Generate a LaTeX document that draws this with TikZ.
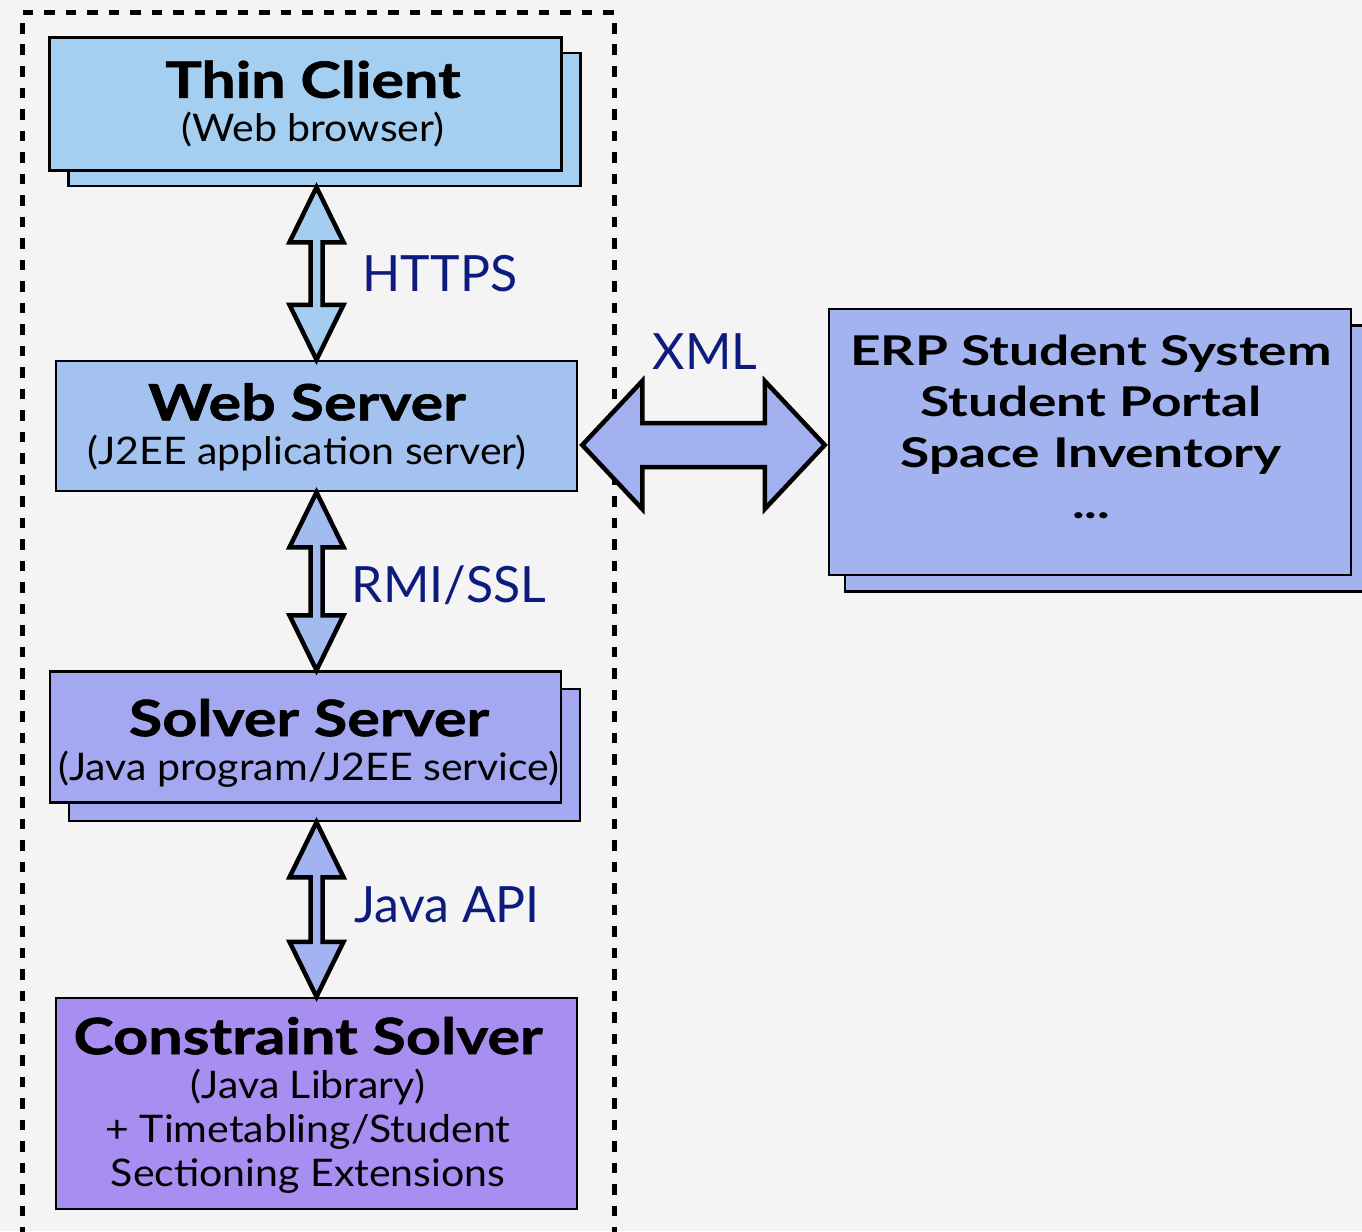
\documentclass[tikz,border=0pt]{standalone}
\usepackage{fontspec}
\setmainfont{Lato}[FakeStretch=1.08]
\newfontfamily\tierheavy{Lato}[FakeStretch=1.22, BoldFeatures={FakeBold=1.2}]
\newfontfamily\erpfont{Lato}[FakeStretch=1.3]
\newfontfamily\linkfont{Lato}
\usepackage{xcolor}
\usetikzlibrary{positioning,calc}
\definecolor{bgpaper}{HTML}{F4F4F4}
\definecolor{cfthin}{HTML}{A4CFF1}
\definecolor{cfweb}{HTML}{A3C2F0}
\definecolor{cfsolver}{HTML}{A4A8F0}
\definecolor{cfcore}{HTML}{A78EF0}
\definecolor{cferp}{HTML}{A3B3F0}
\definecolor{cfhttps}{HTML}{A4CDF0}
\definecolor{cfrmi}{HTML}{A3BCF0}
\definecolor{cfjava}{HTML}{A3B2F0}
\definecolor{cfxml}{HTML}{A3B0F0}
\definecolor{cflabel}{HTML}{0D1B7F}
\newcommand{\tiername}[1]{{\fontsize{50}{44}\selectfont\tierheavy\bfseries #1}}
% fat double arrow standing between two points (top tip, bottom tip)
\newcommand{\vduplex}[3]{%
  \filldraw[duplex, fill=#3] let \p1=(#1), \p2=(#2) in
    (\x1,\y1) -- (\x1+27pt,\y1-55pt) -- (\x1+6pt,\y1-55pt) -- (\x1+6pt,\y2+55pt)
    -- (\x1+27pt,\y2+55pt) -- (\x2,\y2) -- (\x1-27pt,\y2+55pt) -- (\x1-6pt,\y2+55pt)
    -- (\x1-6pt,\y1-55pt) -- (\x1-27pt,\y1-55pt) -- cycle;}

\begin{document}
\begin{tikzpicture}[x=1pt, y=-1pt, line join=miter,
  tier/.style={draw=black, line width=2.5pt, inner sep=0pt},
  tiertext/.style={align=center, inner sep=0pt, font=\fontsize{38}{44}\selectfont},
  duplex/.style={draw=black, line width=4.5pt},
  linklabel/.style={text=cflabel, inner sep=0pt, font=\fontsize{50}{56}\selectfont\linkfont},
  frame/.style={line width=5pt, dash pattern=on 10.7pt off 10.8pt}]
  \clip (0,0) rectangle (1362,1231);
  \fill[bgpaper] (0,0) rectangle (1362,1231);
  % frame round the local side
  \draw[frame] (22.5,23) -- (22.5,1240);
  \draw[frame] (22.5,13) -- (615,13);
  \draw[frame] (614,23) -- (614,1240);
  % tiers
  \node[tier, fill=cfthin, minimum width=512, minimum height=133] (tcb) at (324.5,119.5) {};
  \node[tier, fill=cfthin, minimum width=512, minimum height=133] (tc) at (305.5,104) {};
  \node[tiertext] (tc-text) at (313,104) {\tiername{Thin Client}\\(Web browser)};
  \node[tier, fill=cfweb, minimum width=521, minimum height=130] (web) at (316.5,426) {};
  \node[tiertext] (web-text) at (307,427) {\tiername{Web Server}\\(J2EE application server)};
  \node[tier, fill=cfsolver, minimum width=511, minimum height=132] (ssb) at (324.5,755) {};
  \node[tier, fill=cfsolver, minimum width=511, minimum height=131] (ss) at (305.5,737) {};
  \node[tiertext] (ss-text) at (309,743) {\tiername{Solver Server}\\(Java program/J2EE service)};
  \node[tier, fill=cfcore, minimum width=521, minimum height=211] (cs) at (316.5,1103.5) {};
  \node[tiertext] (cs-text) at (308,1105) {\tiername{Constraint Solver}\\(Java Library)\\+ Timetabling/Student\\Sectioning Extensions};
  % outside systems
  \node[tier, fill=cferp, minimum width=522, minimum height=266] (erpb) at (1106,458.5) {};
  \node[tier, fill=cferp, minimum width=522, minimum height=266] (erp) at (1090,442) {};
  \node[tiertext, font=\fontsize{41}{51}\selectfont\erpfont\bfseries] (erp-text) at (1091,427)
    {ERP Student System\\Student Portal\\Space Inventory\\...};
  % links
  \vduplex{web.north |- tcb.south}{web.north}{cfhttps}
  \vduplex{web.south}{web.south |- ss.north}{cfrmi}
  \vduplex{cs.north |- ssb.south}{cs.north}{cfjava}
  \filldraw[duplex, fill=cfxml] let \p1=($(web.east |- erp.west)+(4,3)$), \p2=($(erp.west)+(-3,3)$) in
    (\x1,\y1) -- (\x1+60pt,\y1+64pt) -- (\x1+60pt,\y1+22pt) -- (\x2-60pt,\y1+22pt)
    -- (\x2-60pt,\y1+64pt) -- (\x2,\y1) -- (\x2-60pt,\y1-64pt) -- (\x2-60pt,\y1-22pt)
    -- (\x1+60pt,\y1-22pt) -- (\x1+60pt,\y1-64pt) -- cycle;
  \node[linklabel, anchor=west] (https) at ($(web.north |- tcb.south)!0.5!(web.north)+(46,0)$) {HTTPS};
  \node[linklabel, anchor=west] (rmi) at ($(web.south)!0.5!(web.south |- ss.north)+(35,4)$) {RMI/SSL};
  \node[linklabel, anchor=west] (javaapi) at ($(cs.north |- ssb.south)!0.5!(cs.north)+(38,-5)$) {Java API};
  \node[linklabel] (xml) at ($(web.east |- erp.west)!0.5!(erp.west)+(2,-90)$) {XML};
\end{tikzpicture}
\end{document}
